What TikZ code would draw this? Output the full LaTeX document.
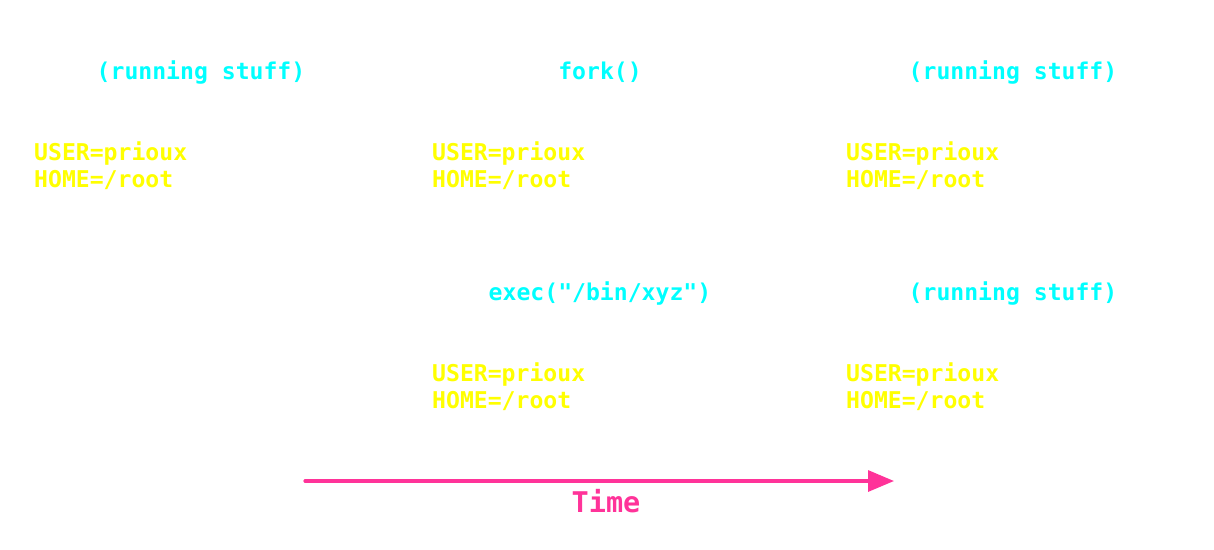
\documentclass[tikz,border=0pt]{standalone}
\usepackage{fontspec}
\setmonofont{DejaVu Sans Mono}
\usetikzlibrary{arrows.meta}
\definecolor{cy}{HTML}{00FFFF}
\definecolor{ye}{HTML}{FFFF00}
\definecolor{pk}{HTML}{FF3399}
\begin{document}
\begin{tikzpicture}[x=1pt,y=-1pt,
  call/.style={inner sep=0pt,anchor=base,text=cy,font=\ttfamily\fontsize{23.1}{27}\selectfont\bfseries},
  env/.style={inner sep=0pt,anchor=base west,text=ye,font=\ttfamily\fontsize{23.1}{27}\selectfont\bfseries},
  timeline/.style={draw=pk,line width=3.2pt,line cap=round,-{Triangle[length=26pt,width=21pt]}}]
\useasboundingbox[fill=white] (0,0) rectangle (1214,549);
% top row
\node[call] (c1) at (201,79) {(running stuff)};
\node[call] (c2) at (600,79) {fork()};
\node[call] (c3) at (1013,79) {(running stuff)};
\node[env] (u1) at (34,160) {USER=prioux};
\node[env] (h1) at (34,187) {HOME=/root};
\node[env] (u2) at (432,160) {USER=prioux};
\node[env] (h2) at (432,187) {HOME=/root};
\node[env] (u3) at (846,160) {USER=prioux};
\node[env] (h3) at (846,187) {HOME=/root};
% bottom row
\node[call] (c4) at (600,300) {exec("/bin/xyz")};
\node[call] (c5) at (1013,300) {(running stuff)};
\node[env] (u4) at (432,381) {USER=prioux};
\node[env] (h4) at (432,408) {HOME=/root};
\node[env] (u5) at (846,381) {USER=prioux};
\node[env] (h5) at (846,408) {HOME=/root};
% time arrow
\coordinate (ts) at (305,481);
\coordinate (te) at (894,481);
\draw[timeline] (ts) -- (te);
\node[inner sep=0pt,anchor=base,text=pk,font=\ttfamily\fontsize{28.5}{34}\selectfont\bfseries] (time) at (606,512) {Time};
\end{tikzpicture}
\end{document}
